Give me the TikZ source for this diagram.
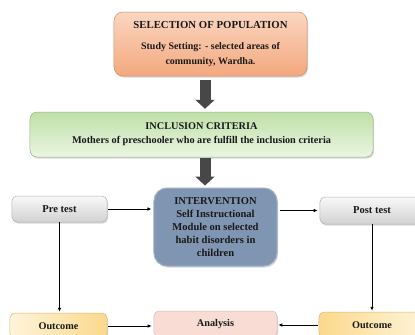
\documentclass[tikz,border=0pt]{standalone}
\usepackage{fontspec}
\setmainfont{Liberation Serif}
\usetikzlibrary{arrows.meta}
\usetikzlibrary{shadows}

\definecolor{peachtop}{HTML}{FBD6C0}
\definecolor{peachbot}{HTML}{F3A87E}
\definecolor{greentop}{HTML}{BFE0A8}
\definecolor{greenbot}{HTML}{EAF5E2}
\definecolor{greytop}{HTML}{F8F8F8}
\definecolor{greybot}{HTML}{D2D2D2}
\definecolor{yellowlt}{HTML}{FEF4DA}
\definecolor{yellowdk}{HTML}{FBD98C}
\definecolor{slate}{HTML}{8095B2}
\definecolor{pinkish}{HTML}{F9DDD4}

\tikzset{
  box/.style={rectangle, rounded corners=5bp, align=center, inner sep=2bp,
    text=black!90, line width=0.5bp,
    drop shadow={opacity=0.3, shadow xshift=1bp, shadow yshift=-1.5bp}},
  flow/.style={draw=black, line width=0.8bp, -{Latex[length=4bp,width=3.5bp]}},
  bigarrow/.style={draw=black!72, line width=11bp, -{Triangle[length=9bp,width=19bp]}},
}

\begin{document}
\begin{tikzpicture}[x=1bp,y=-1bp]
  \useasboundingbox (0,0) rectangle (415,335);
  \clip (0,0) rectangle (415,335);
  \fill[white] (0,0) rectangle (415,335);
  % top of the flow
  \node[box, top color=peachtop, bottom color=peachbot, draw=peachbot!85!black,
        rounded corners=9bp, minimum width=193bp, minimum height=64bp,
        font=\bfseries\fontsize{10.8}{15}\selectfont] (select) at (210.5,44)
        {SELECTION OF POPULATION\\[6bp]
         {\fontsize{10}{15}\selectfont Study Setting: - selected areas of}\\
         {\fontsize{10}{15}\selectfont community, Wardha.}};
  \node[box, top color=greentop, bottom color=greenbot, draw=greentop!80!black,
        rounded corners=7bp, minimum width=343bp, minimum height=45bp,
        font=\bfseries\fontsize{10.3}{14}\selectfont] (incl) at (201.5,134.5)
        {INCLUSION CRITERIA\\Mothers of preschooler who are fulfill the inclusion criteria};
  % middle row
  \node[box, fill=slate, draw=slate!75!white, line width=1bp, rounded corners=13bp,
        minimum width=123bp, minimum height=78bp,
        font=\bfseries\fontsize{10.6}{13}\selectfont] (interv) at (215.5,227)
        {INTERVENTION\\Self Instructional\\Module on selected\\habit disorders in\\children};
  \node[box, top color=greytop, bottom color=greybot, draw=greybot!85!black,
        minimum width=95bp, minimum height=26bp,
        font=\bfseries\fontsize{10.6}{13}\selectfont] (pre) at (59.5,209) {Pre test};
  \node[box, top color=greytop, bottom color=greybot, draw=greybot!85!black,
        minimum width=104bp, minimum height=27bp,
        font=\bfseries\fontsize{10.6}{13}\selectfont] (post) at (372,210.5) {Post test};
  % bottom row
  \node[box, left color=yellowlt, right color=yellowdk, draw=yellowdk!85!black,
        minimum width=97bp, minimum height=26bp,
        font=\bfseries\fontsize{10.3}{13}\selectfont] (outl) at (58.5,326) {Outcome};
  \node[box, fill=pinkish, draw=pinkish!85!black,
        minimum width=123bp, minimum height=26bp,
        font=\bfseries\fontsize{10.3}{13}\selectfont] (anal) at (215.5,324) {Analysis};
  \node[box, left color=yellowdk, right color=yellowlt, draw=yellowdk!85!black,
        minimum width=106bp, minimum height=26bp,
        font=\bfseries\fontsize{10.3}{13}\selectfont] (outr) at (372,325) {Outcome};
  % block arrows
  \coordinate (axis) at (205,0);
  \draw[bigarrow, shorten <=4bp, shorten >=3bp] (select.south -| axis) -- (incl.north -| axis);
  \draw[bigarrow, shorten <=1bp, shorten >=2bp] (incl.south -| axis) -- (interv.north -| axis);
  % thin arrows
  \draw[flow, shorten <=1bp, shorten >=2bp] (pre.east) -- (pre.east -| interv.west);
  \draw[flow, shorten <=2bp, shorten >=2bp] (interv.east |- post) -- (post.west);
  \draw[flow, shorten >=1bp] (pre.south) -- (pre.south |- outl.north);
  \draw[flow, shorten >=1bp] (post.south) -- (outr.north);
  \draw[flow, shorten <=1bp, shorten >=2bp] (outl.east) -- (outl.east -| anal.west);
  \draw[flow, shorten <=1bp, shorten >=1bp] (outr.west) -- (outr.west -| anal.east);
\end{tikzpicture}
\end{document}
